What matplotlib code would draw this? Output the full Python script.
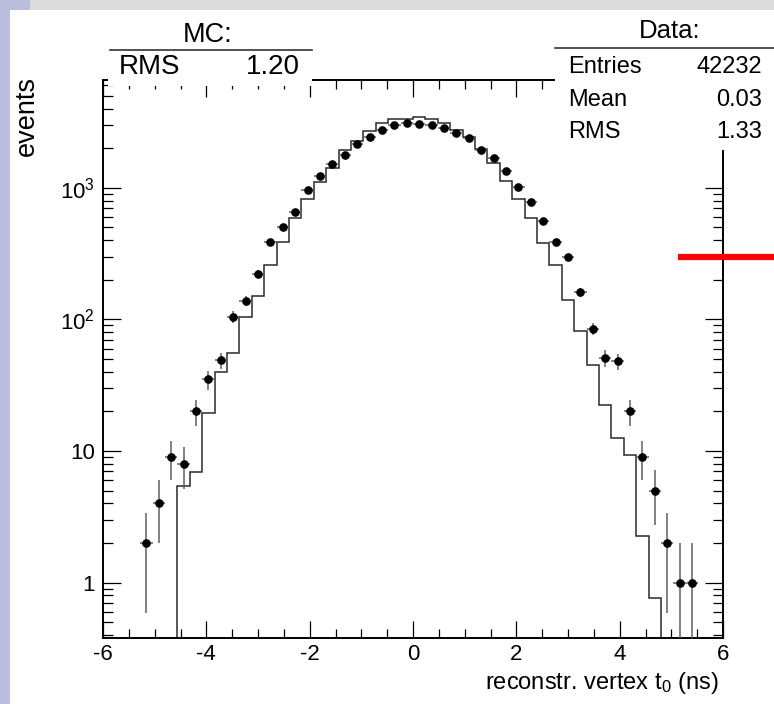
import numpy as np
import matplotlib
matplotlib.use('Agg')
import matplotlib.pyplot as plt
from matplotlib.patches import Rectangle
from matplotlib.lines import Line2D
from matplotlib import font_manager

# ---------------- data ----------------
bin_edges_range = (-6.0, 6.0)
n_bins = 50

data_counts = [0, 0, 0, 2, 4, 9, 8, 20, 35, 49,
               105, 138, 221, 388, 508, 653, 955, 1225, 1518, 1778,
               2168, 2434, 2752, 3005, 3093, 3055, 3020, 2850, 2600, 2380,
               1940, 1695, 1350, 1011, 785, 561, 388, 297, 161, 85,
               51, 48, 20, 9, 5, 2, 1, 1, 0, 0]

mc_counts = [0, 0, 0, 0, 0, 0, 5.4, 6.9, 19.4, 39.8,
             56, 105, 151, 260, 391, 588, 819, 1105, 1409, 1940,
             2284, 2718, 3096, 3319, 3319, 3474, 3319, 3096, 2752, 2422,
             1963, 1538, 1128, 819, 588, 380, 260, 141, 82, 45,
             22.5, 12.6, 9.4, 2.27, 0.77, 0, 0, 0, 0, 0]

x_ticks = [-6, -4, -2, 0, 2, 4, 6]
x_tick_labels = ['-6', '-4', '-2', '0', '2', '4', '6']
y_ticks = [1, 10, 100, 1000]
y_tick_labels = ['1', '10', r'$\mathregular{10^{2}}$', r'$\mathregular{10^{3}}$']

mc_title = 'MC:'
mc_stats = [('RMS', '1.20')]
data_title = 'Data:'
data_stats = [('Entries', '42232'), ('Mean', '0.03'), ('RMS', '1.33')]
x_label = r'reconstr. vertex t$\mathregular{_0}$ (ns)'
y_label = 'events'

# ---------------- fonts ----------------
def available(name):
    try:
        font_manager.findfont(name, fallback_to_default=False)
        return True
    except Exception:
        return False

fams = [f for f in ['Liberation Sans', 'DejaVu Sans'] if available(f)]
plt.rcParams['font.family'] = fams
plt.rcParams['mathtext.fontset'] = 'custom'
plt.rcParams['mathtext.rm'] = fams[0]
plt.rcParams['mathtext.it'] = fams[0]
plt.rcParams['mathtext.bf'] = fams[0]

W, H = 774, 704
fig = plt.figure(figsize=(W / 100, H / 100), dpi=100)
fig.patch.set_facecolor('white')

def fx(px):
    return px / W

def fy(py):
    return 1 - py / H

# slide decorations
fig.add_artist(Rectangle((fx(30), fy(10)), fx(W - 30), 10 / H, transform=fig.transFigure,
                         facecolor='#dcdcdc', edgecolor='none', zorder=0))
fig.add_artist(Rectangle((0, fy(10)), fx(30), 10 / H, transform=fig.transFigure,
                         facecolor='#babddc', edgecolor='none', zorder=0))
fig.add_artist(Rectangle((0, 0), fx(10), fy(10), transform=fig.transFigure,
                         facecolor='#babddc', edgecolor='none', zorder=0))

# ---------------- axes ----------------
left, right, top, bottom = 103, 723, 80, 638
ax = fig.add_axes([fx(left), fy(bottom), fx(right - left), (bottom - top) / H])
ax.set_facecolor('white')

edges = np.linspace(bin_edges_range[0], bin_edges_range[1], n_bins + 1)
centers = 0.5 * (edges[:-1] + edges[1:])
half_w = 0.5 * (edges[1] - edges[0])

mc = np.array(mc_counts, dtype=float)
mc_draw = np.where(mc > 0, mc, 1e-3)
ax.stairs(mc_draw, edges, color='#2a2a2a', linewidth=1.1, zorder=2)

d = np.array(data_counts, dtype=float)
m = d > 0
err = np.sqrt(d[m])
lo = np.minimum(err, d[m] * 0.9999)
ax.errorbar(centers[m], d[m], yerr=[lo, err], xerr=half_w, fmt='none',
            ecolor='#606060', elinewidth=1.1, capsize=0, zorder=3)
ax.plot(centers[m], d[m], 'o', color='black', markersize=5.2, zorder=4)

ax.set_xlim(*bin_edges_range)
ax.set_yscale('log')
ax.set_ylim(0.38, 6600)

ax.set_xticks(x_ticks)
ax.set_xticklabels(x_tick_labels)
ax.set_xticks(np.arange(-6, 6.01, 0.5), minor=True)
ax.set_yticks(y_ticks)
ax.set_yticklabels(y_tick_labels)
minor_y = [k * 10 ** e for e in range(-1, 4) for k in range(2, 10)]
ax.set_yticks([v for v in minor_y if 0.38 < v < 6600], minor=True)
ax.yaxis.set_minor_formatter(matplotlib.ticker.NullFormatter())

ax.tick_params(which='both', direction='in', top=True, right=True, width=0.9, colors='black')
ax.tick_params(axis='x', which='major', length=12, pad=4, labelsize=16)
ax.tick_params(axis='x', which='minor', length=6.5)
ax.tick_params(axis='y', which='major', length=13, pad=6, labelsize=16)
ax.tick_params(axis='y', which='minor', length=7)
for s in ax.spines.values():
    s.set_linewidth(1.4)
    s.set_color('black')

# axis labels
fig.text(fx(719), fy(689), x_label, ha='right', va='baseline', fontsize=17)
fig.text(fx(40), fy(76), y_label, ha='right', va='top', rotation=90, fontsize=19.5)

# ---------------- stat boxes ----------------
fig.add_artist(Rectangle((fx(108), fy(86)), fx(312 - 108), 76 / H, transform=fig.transFigure,
                         facecolor='white', edgecolor='none', zorder=5))
fig.add_artist(Line2D([fx(110), fx(312)], [fy(50), fy(50)], transform=fig.transFigure,
                      color='#333333', linewidth=1.2, zorder=6))
fig.text(fx(208), fy(41.7), mc_title, ha='center', va='baseline', fontsize=19.5, zorder=7)
for i, (k, v) in enumerate(mc_stats):
    fig.text(fx(119), fy(74 + 33 * i), k, ha='left', va='baseline', fontsize=20, zorder=7)
    fig.text(fx(300), fy(74 + 33 * i), v, ha='right', va='baseline', fontsize=20, zorder=7)

fig.add_artist(Rectangle((fx(555), fy(150)), fx(W - 555), 140 / H, transform=fig.transFigure,
                         facecolor='white', edgecolor='none', zorder=5))
fig.add_artist(Line2D([fx(555), fx(W)], [fy(47.7), fy(47.7)], transform=fig.transFigure,
                      color='#333333', linewidth=1.2, zorder=6))
fig.text(fx(670), fy(38.3), data_title, ha='center', va='baseline', fontsize=18.5, zorder=7)
for i, (k, v) in enumerate(data_stats):
    fig.text(fx(568), fy(72.7 + 32.8 * i), k, ha='left', va='baseline', fontsize=17, zorder=7)
    fig.text(fx(762), fy(72.7 + 32.8 * i), v, ha='right', va='baseline', fontsize=17, zorder=7)

# red annotation line
fig.add_artist(Line2D([fx(678), fx(W)], [fy(257), fy(257)], transform=fig.transFigure,
                      color='#ff0000', linewidth=4.5, solid_capstyle='butt', zorder=8))

fig.savefig('out.png', dpi=100, facecolor='white')
